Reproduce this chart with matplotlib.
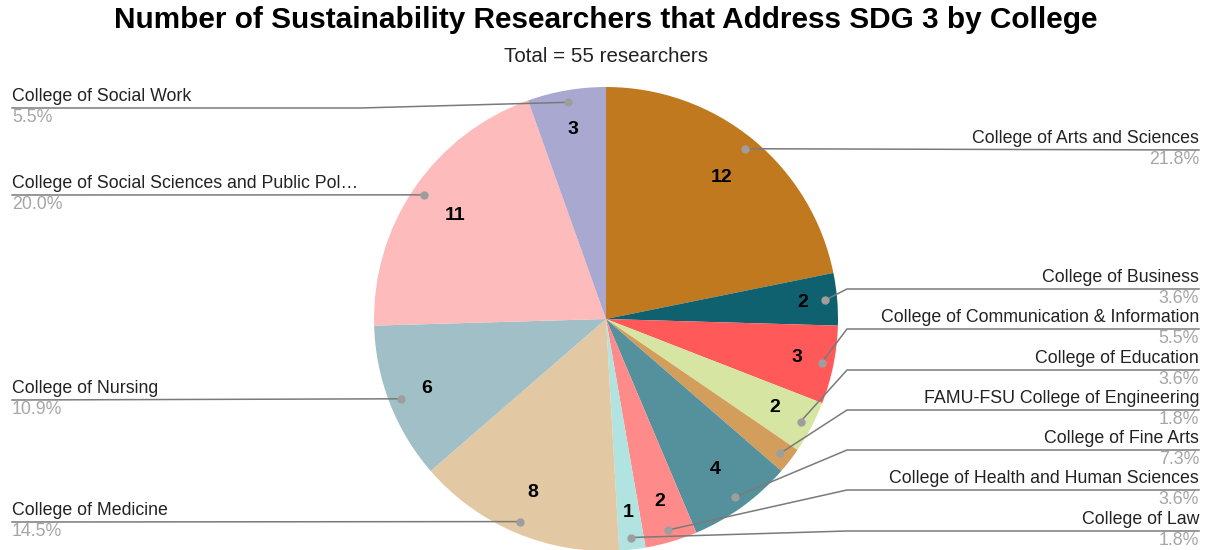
import numpy as np
import matplotlib.pyplot as plt

plt.rcParams['font.family'] = ['Liberation Sans', 'DejaVu Sans']

# data
colleges = [
    "College of Arts and Sciences",
    "College of Business",
    "College of Communication & Information",
    "College of Education",
    "FAMU-FSU College of Engineering",
    "College of Fine Arts",
    "College of Health and Human Sciences",
    "College of Law",
    "College of Medicine",
    "College of Nursing",
    "College of Social Sciences and Public Pol\u2026",
    "College of Social Work",
]
researchers = [12, 2, 3, 2, 1, 4, 2, 1, 8, 6, 11, 3]
colors = ["#c0791e", "#0f6170", "#ff5a59", "#d7e5a2", "#d39e5c", "#54919c",
          "#ff8a8a", "#b1e3e0", "#e3c8a4", "#a0bfc6", "#fdbbbb", "#a9a8d1"]

# layout (pixel coords, figure is 1208x550)
W, H = 1208, 550
cx, cy, R = 606, 319, 232
# y of leader line for each label, side, elbow x (None = straight)
line_y = [150, 289, 329, 370, 410, 450, 490, 531, 522, 400, 195, 108]
side = ['R'] * 8 + ['L'] * 4
elbow_x = [None, 847, 847, 847, 847, 847, 847, 847, None, None, None, 360]
num_r = [0.79, 0.85, 0.84, 0.82, None, 0.80, 0.82, 0.84, 0.81, 0.83, 0.79, 0.83]

fig = plt.figure(figsize=(W / 100, H / 100), dpi=100)
ax = fig.add_axes([0, 0, 1, 1])

wedges, _ = ax.pie(researchers, colors=colors, startangle=90, counterclock=False,
                   center=(cx, H - cy), radius=R,
                   wedgeprops=dict(linewidth=0))
ax.set_xlim(0, W)
ax.set_ylim(0, H)
ax.set_aspect('equal')
ax.axis('off')

total = sum(researchers)
for i, w in enumerate(wedges):
    ang = np.deg2rad((w.theta1 + w.theta2) / 2)
    # number label inside slice
    if num_r[i] is not None:
        r = num_r[i] * R
        ax.text(cx + r * np.cos(ang), H - cy + r * np.sin(ang), str(researchers[i]),
                ha='center', va='center', fontsize=14, fontweight='bold', color='black')
    # leader dot
    rd = 0.948 * R
    dx, dy = cx + rd * np.cos(ang), H - cy + rd * np.sin(ang)
    ly = H - line_y[i]
    ax.plot(dx, dy, 'o', color='#9e9e9e', markersize=5, zorder=5)
    pct = f"{researchers[i] / total * 100:.1f}%"
    if side[i] == 'R':
        xs = [dx]
        ys = [dy]
        if elbow_x[i] is not None:
            xs.append(elbow_x[i]); ys.append(ly)
        xs.append(1199); ys.append(ly)
        ax.plot(xs, ys, color='#7a7a7a', lw=1.1, zorder=4)
        ax.text(1199, ly + 3, colleges[i], ha='right', va='bottom', fontsize=12.8, color='#222222')
        ax.text(1199, ly - 1, pct, ha='right', va='top', fontsize=12.8, color='#a6a6a6')
    else:
        xs = [12]
        ys = [ly]
        if elbow_x[i] is not None:
            xs.append(elbow_x[i]); ys.append(ly)
        xs.append(dx); ys.append(dy)
        ax.plot(xs, ys, color='#7a7a7a', lw=1.1, zorder=4)
        ax.text(12, ly + 3, colleges[i], ha='left', va='bottom', fontsize=12.8, color='#222222')
        ax.text(12, ly - 1, pct, ha='left', va='top', fontsize=12.8, color='#a6a6a6')

fig.text(606 / W, 1 - 20 / H, "Number of Sustainability Researchers that Address SDG 3 by College",
         ha='center', va='center', fontsize=21.4, fontweight='bold', color='black')
fig.text(606 / W, 1 - 57 / H, "Total = 55 researchers",
         ha='center', va='center', fontsize=14.8, color='#222222')

fig.savefig("out.png", dpi=100)
